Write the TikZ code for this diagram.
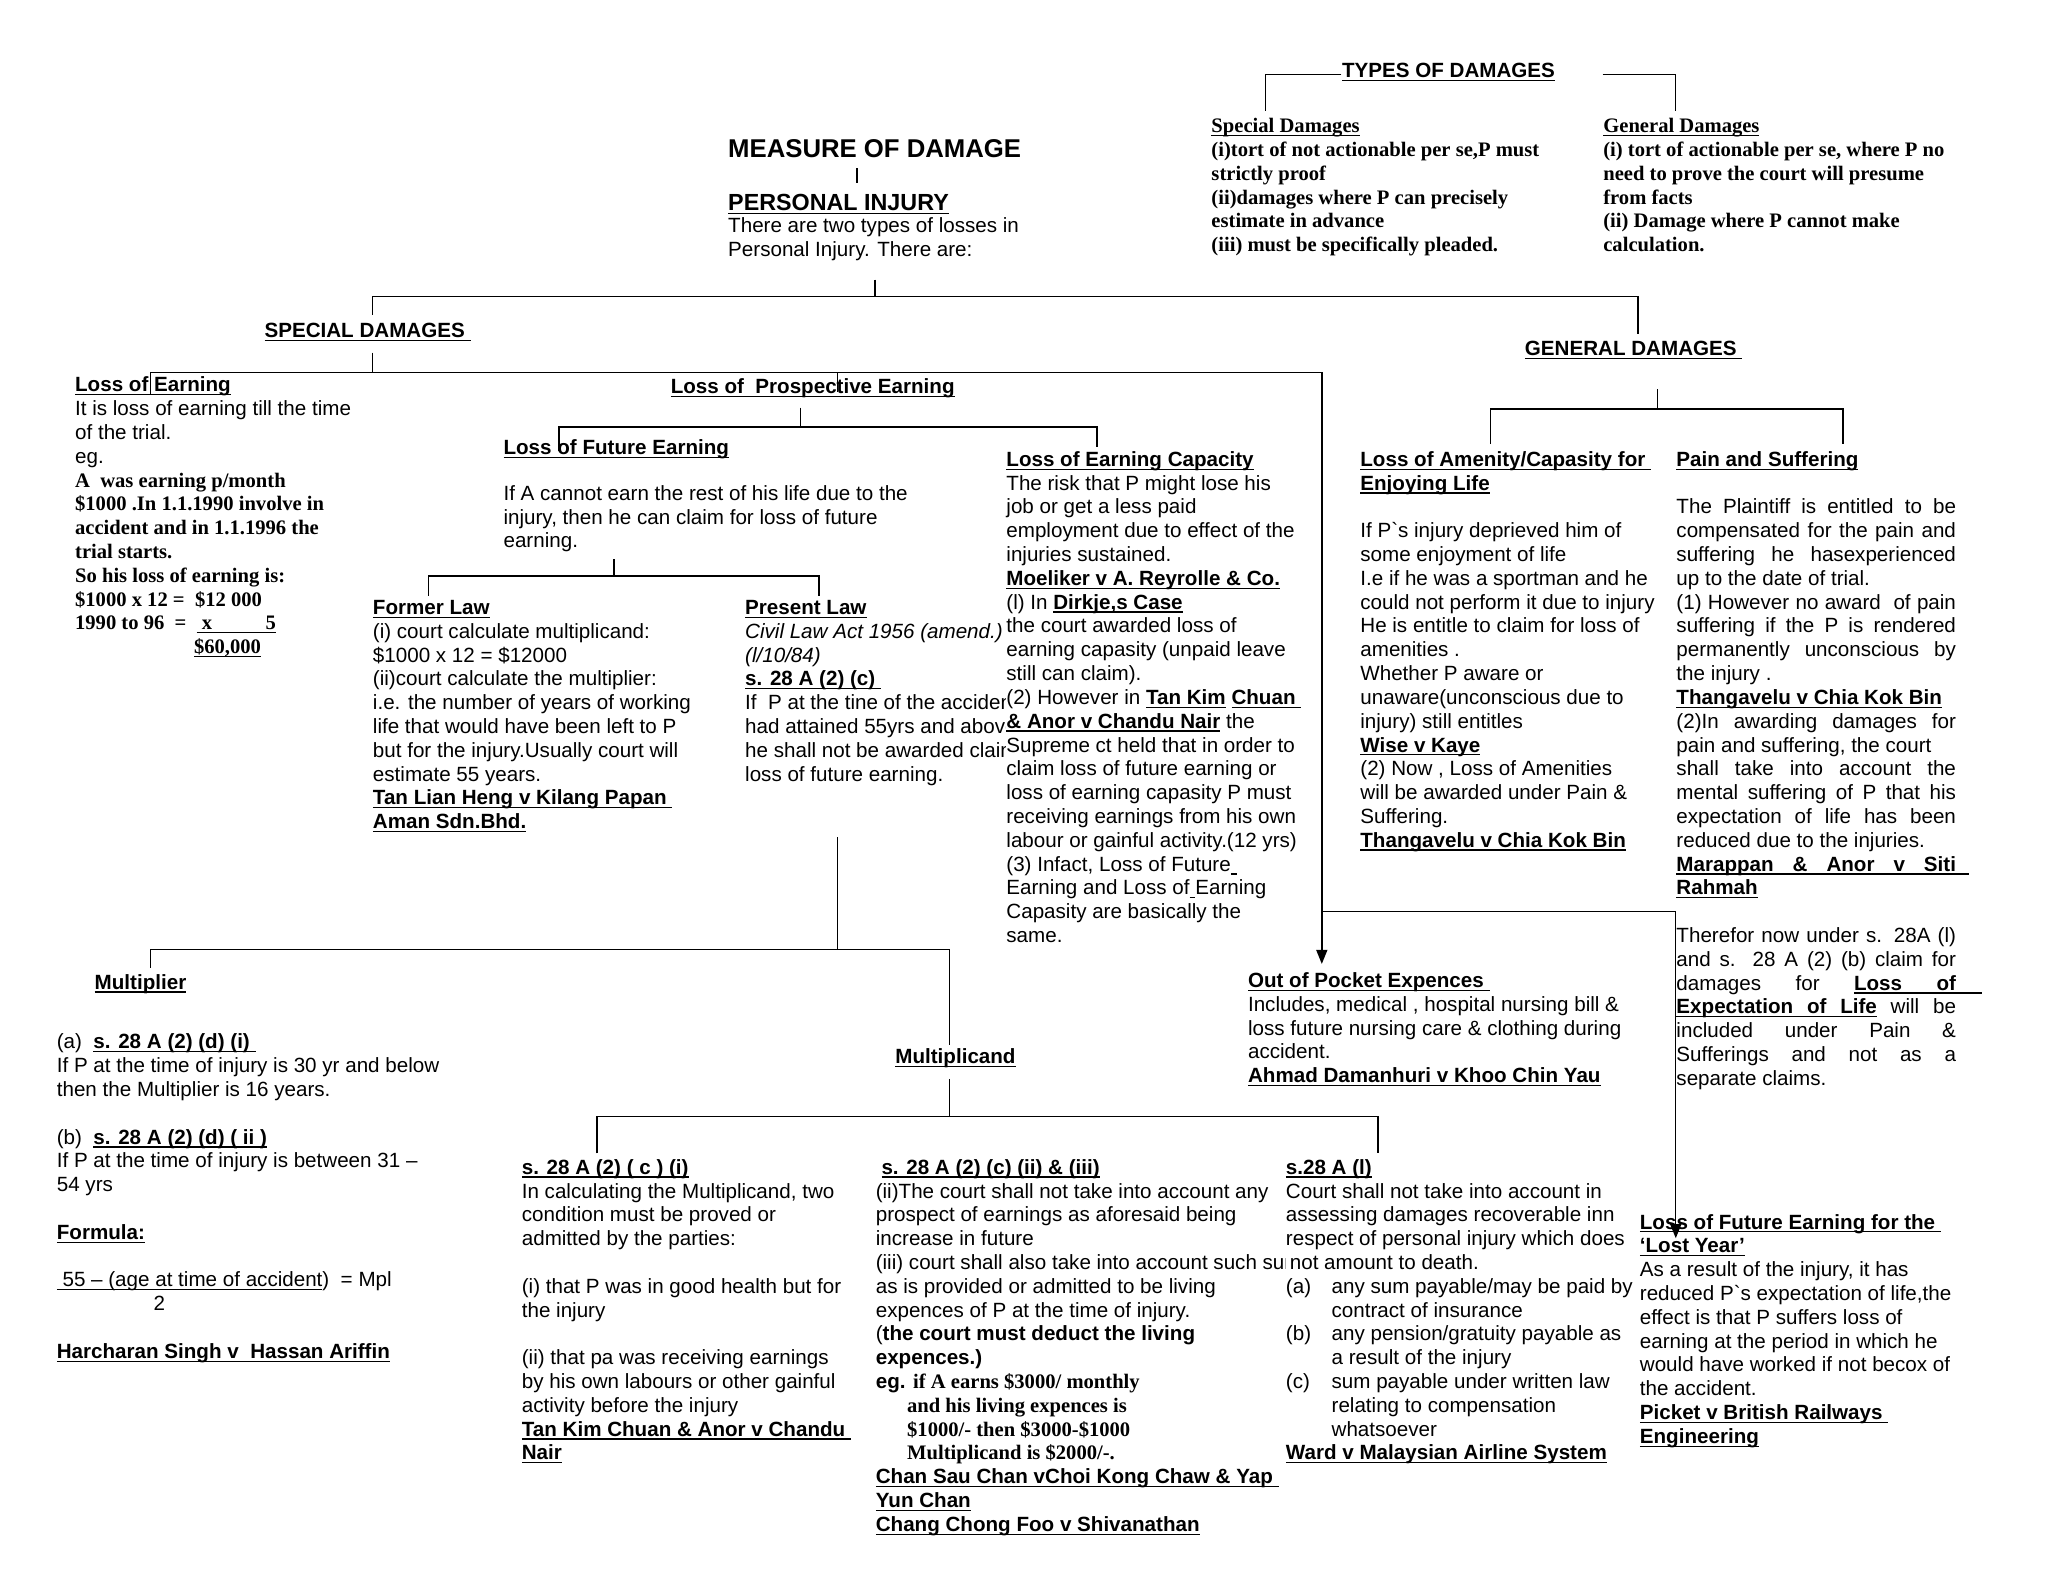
\documentclass[tikz,border=0pt]{standalone}
\usepackage{fontspec}
\setmainfont{Liberation Sans}
\newfontfamily\tnr{Liberation Serif}
\usetikzlibrary{arrows.meta}
\newlength\un \setlength\un{0.65pt}
\newlength\jw \setlength\jw{214\un}
\newcommand{\fs}{\fontsize{10.25}{11.85}\selectfont}
\newcommand{\ul}[1]{\setbox0\hbox{#1}\rlap{\rule[-1.7pt]{\wd0}{0.6pt}}\box0}
\newcommand{\hd}[1]{\textbf{\ul{#1}}}
\newcommand{\tb}[1]{{\tnr\bfseries #1}}
\newcommand{\jl}[1]{\makebox[\jw][s]{#1}}
\newcommand{\uls}{\leaders\hrule height -1.1pt depth 1.7pt\hskip\fontdimen2\font plus\fontdimen3\font minus\fontdimen4\font\relax}
\tikzset{
  txt/.style={anchor=north west, inner sep=0pt, yshift=-1pt, align=left, font=\fs, execute at begin node=\strut},
  serif/.style={txt, font=\fs\tnr\bfseries},
  blank/.style={txt, fill=white},
  arr/.style={-{Triangle[length=7pt,width=5.5pt]}}
}
\begin{document}
\begin{tikzpicture}[x=0.65pt,y=-0.65pt,line width=0.7pt]
\fill[white] (0,0) rectangle (1568,1211);

\node[txt] (types) at (1027,44.5) {\hd{TYPES OF DAMAGES}};
\node[serif] (spd) at (927,88.5) {\ul{Special Damages}\\
  (i)tort of not actionable per se,P must\\
  strictly proof\\
  (ii)damages where P can precisely\\
  estimate in advance\\
  (iii) must be specifically pleaded.};
\node[serif] (gnd) at (1227,88.5) {\ul{General Damages}\\
  (i) tort of actionable per se, where P no\\
  need to prove the court will presume\\
  from facts\\
  (ii) Damage where P cannot make\\
  calculation.};

\node[txt, font=\fontsize{12.8}{15}\selectfont\bfseries] (measure) at (557,102) {MEASURE OF DAMAGE};
\node[txt, font=\fontsize{11.6}{14}\selectfont] (pinj) at (557,144.3) {\hd{PERSONAL INJURY}};
\node[txt] (intro) at (557,164.5) {There are two types of losses in\\
  Personal Injury. There are:};

\node[txt] (sd) at (202,243.5) {\hd{SPECIAL DAMAGES\ }};
\node[txt] (gd) at (1167,257.5) {\hd{GENERAL DAMAGES\ }};

\node[txt] (le) at (57,286.5) {\hd{Loss of Earning}\\
  It is loss of earning till the time\\
  of the trial.\\
  eg.\\
  \tb{A\ \ was earning p/month}\\
  \tb{\$1000 .In 1.1.1990 involve in}\\
  \tb{accident and in 1.1.1996 the}\\
  \tb{trial starts.}\\
  \tb{So his loss of earning is:}\\
  \tb{\$1000 x 12 =\ \ \$12 000}\\
  \tb{1990 to 96\ \ =\ \ \ul{\ x\hspace{2.6em}5}}\\
  \hspace*{91\un}\tb{\ul{\$60,000}}};

\node[txt] (pe) at (513,286.5) {\hd{Loss of\ \ Prospective Earning}};
\node[txt] (lf) at (385,333.5) {\hd{Loss of Future Earning}};
\node[txt] (lfp) at (385,369.5) {If A cannot earn the rest of his life due to the\\
  injury, then he can claim for loss of future\\
  earning.};

\node[txt] (fl) at (285,457.5) {\hd{Former Law}\\
  (i) court calculate multiplicand:\\
  \$1000 x 12 = \$12000\\
  (ii)court calculate the multiplier:\\
  i.e. the number of years of working\\
  life that would have been left to P\\
  but for the injury.Usually court will\\
  estimate 55 years.\\
  \hd{Tan Lian Heng v Kilang Papan\ }\\
  \hd{Aman Sdn.Bhd.}};
\node[txt] (pl) at (570,457.5) {\hd{Present Law}\\
  \textit{Civil Law Act 1956 (amend.)}\\
  \textit{(l/10/84)}\\
  \hd{s. 28 A (2) (c)\ }\\
  If\ \ P at the tine of the accident\\
  had attained 55yrs and above\\
  he shall not be awarded claim\\
  loss of future earning.};

\node[blank] (lc) at (770,343.5) {\hd{Loss of Earning Capacity}\\
  The risk that P might lose his\\
  job or get a less paid\\
  employment due to effect of the\\
  injuries sustained.\\
  \hd{Moeliker v A. Reyrolle \& Co.}\\
  (l) In \hd{Dirkje,s Case}\\
  the court awarded loss of\\
  earning capasity (unpaid leave\\
  still can claim).\\
  (2) However in \hd{Tan Kim} \hd{Chuan\ }\\
  \hd{\& Anor v Chandu Nair} the\\
  Supreme ct held that in order to\\
  claim loss of future earning or\\
  loss of earning capasity P must\\
  receiving earnings from his own\\
  labour or gainful activity.(12 yrs)\\
  (3) Infact, Loss of Future\ul{\ }\\
  Earning and Loss of\ul{\ }Earning\\
  Capasity are basically the\\
  same.};

\node[txt] (am) at (1041,343.5) {\hd{Loss of Amenity/Capasity for\ }\\
  \hd{Enjoying Life}\\
  ~\\
  If P\textasciigrave s injury deprieved him of\\
  some enjoyment of life\\
  I.e if he was a sportman and he\\
  could not perform it due to injury\\
  He is entitle to claim for loss of\\
  amenities .\\
  Whether P aware or\\
  unaware(unconscious due to\\
  injury) still entitles\\
  \hd{Wise v Kaye}\\
  (2) Now , Loss of Amenities\\
  will be awarded under Pain \&\\
  Suffering.\\
  \hd{Thangavelu v Chia Kok Bin}};

\node[txt] (ps) at (1283,343.5) {\hd{Pain and Suffering}\\
  ~\\
  \jl{The Plaintiff is entitled to be}\\
  \jl{compensated for the pain and}\\
  \jl{suffering he hasexperienced}\\
  up to the date of trial.\\
  \jl{(1) However no award\ \ of pain}\\
  \jl{suffering if the P is rendered}\\
  \jl{permanently unconscious by}\\
  the injury .\\
  \hd{Thangavelu v Chia Kok Bin}\\
  \jl{(2)In awarding damages for}\\
  pain and suffering, the court\\
  \jl{shall take into account the}\\
  \jl{mental suffering of P that his}\\
  \jl{expectation of life has been}\\
  reduced due to the injuries.\\
  \jl{\textbf{\ul{Marappan}\uls\ul{\&}\uls\ul{Anor}\uls\ul{v}\uls\ul{Siti}}}\rlap{\rule[-1.7pt]{10\un}{0.6pt}}\\
  \hd{Rahmah}\\
  ~\\
  \jl{Therefor now under s. 28A (l)}\\
  \jl{and s. 28 A (2) (b) claim for}\\
  \jl{damages for \textbf{\ul{Loss}\uls\ul{of}}}\rlap{\rule[-1.7pt]{20\un}{0.6pt}}\\
  \jl{\textbf{\ul{Expectation}\uls\ul{of}\uls\ul{Life}} will be}\\
  \jl{included under Pain \&}\\
  \jl{Sufferings and not as a}\\
  separate claims.};

\node[txt] (op) at (955,742.5) {\hd{Out of Pocket Expences\ }\\
  Includes, medical , hospital nursing bill \&\\
  loss future nursing care \& clothing during\\
  accident.\\
  \hd{Ahmad Damanhuri v Khoo Chin Yau}};

\node[txt] (ly) at (1255,927.5) {\hd{Loss of Future Earning for the\ }\\
  \hd{‘Lost Year’}\\
  As a result of the injury, it has\\
  reduced P\textasciigrave s expectation of life,the\\
  effect is that P suffers loss of\\
  earning at the period in which he\\
  would have worked if not becox of\\
  the accident.\\
  \hd{Picket v British Railways\ }\\
  \hd{Engineering}};

\node[txt] (mu) at (72,742.5) {\hd{Multiplier}};
\node[txt] (mul) at (43,789.5) {(a)\ \ \hd{s. 28 A (2) (d) (i)\ }\\
  If P at the time of injury is 30 yr and below\\
  then the Multiplier is 16 years.\\
  ~\\
  (b)\ \ \hd{s. 28 A (2) (d) ( ii )}\\
  If P at the time of injury is between 31 –\\
  54 yrs\\
  ~\\
  \hd{Formula:}\\
  ~\\
  \ul{\ 55 – (age at time of accident} )\ \ = Mpl\\
  \hspace*{74\un}2\\
  ~\\
  \hd{Harcharan Singh v\ \ Hassan Ariffin}};

\node[txt] (mc) at (685,799.5) {\hd{Multiplicand}};

\node[txt] (s1) at (399,885.5) {\hd{s. 28 A (2) ( c ) (i)}\\
  In calculating the Multiplicand, two\\
  condition must be proved or\\
  admitted by the parties:\\
  ~\\
  (i) that P was in good health but for\\
  the injury\\
  ~\\
  (ii) that pa was receiving earnings\\
  by his own labours or other gainful\\
  activity before the injury\\
  \hd{Tan Kim Chuan \& Anor v Chandu\ }\\
  \hd{Nair}};
\node[txt] (s2) at (670,885.5) {\ \hd{s. 28 A (2) (c) (ii) \& (iii)}\\
  (ii)The court shall not take into account any\\
  prospect of earnings as aforesaid being\\
  increase in future\\
  (iii) court shall also take into account such sum\\
  as is provided or admitted to be living\\
  expences of P at the time of injury.\\
  (\textbf{the court must deduct the living}\\
  \textbf{expences.)}\\
  \textbf{eg.} \tb{if A earns \$3000/ monthly}\\
  \hspace*{24\un}\tb{and his living expences is}\\
  \hspace*{24\un}\tb{\$1000/- then \$3000-\$1000}\\
  \hspace*{24\un}\tb{Multiplicand is \$2000/-.}\\
  \hd{Chan Sau Chan vChoi Kong Chaw \& Yap\ }\\
  \hd{Yun Chan}\\
  \hd{Chang Chong Foo v Shivanathan}};
\node[blank] (s3) at (984,885.5) {\hd{s.28 A (l)}\\
  Court shall not take into account in\\
  assessing damages recoverable inn\\
  respect of personal injury which does\\
  \hspace*{3\un}not amount to death.\\
  \makebox[35\un][l]{(a)}any sum payable/may be paid by\\
  \hspace*{35\un}contract of insurance\\
  \makebox[35\un][l]{(b)}any pension/gratuity payable as\\
  \hspace*{35\un}a result of the injury\\
  \makebox[35\un][l]{(c)}sum payable under written law\\
  \hspace*{35\un}relating to compensation\\
  \hspace*{35\un}whatsoever\\
  \hd{Ward v Malaysian Airline System}};

\coordinate (tyL) at (1027,57);
\coordinate (tyR) at (1227,57);
\coordinate (spT) at (969,85);
\coordinate (gnT) at (1283,85);
\coordinate (mmA) at (656,129);
\coordinate (mmB) at (656,140);
\coordinate (mdA) at (670,214);
\coordinate (mdB) at (670,227);
\coordinate (sdT) at (285,241);
\coordinate (gdT) at (1254,256);
\coordinate (sdB) at (285,270);
\coordinate (sdJ) at (285,285);
\coordinate (leT) at (115,302);
\coordinate (peJ) at (641,285);
\coordinate (peT) at (641,300);
\coordinate (opJ) at (1012,698);
\coordinate (opA) at (1012,738);
\coordinate (lyA) at (1283,948);
\coordinate (peB) at (613,312);
\coordinate (lfJ) at (613,327);
\coordinate (lfT) at (428,345);
\coordinate (lcT) at (840,342);
\coordinate (lfB) at (470,428);
\coordinate (lawJ) at (470,441);
\coordinate (flT) at (328,456);
\coordinate (plT) at (627,456);
\coordinate (plB) at (641,641);
\coordinate (mJ) at (641,727);
\coordinate (muT) at (115,741);
\coordinate (mcT) at (727,800);
\coordinate (mcB) at (727,826);
\coordinate (mcJ) at (727,855);
\coordinate (s1T) at (457,883);
\coordinate (s3T) at (1055,883);
\coordinate (gdB) at (1269,298);
\coordinate (gdJ) at (1269,313);
\coordinate (amT) at (1141,340);
\coordinate (psT) at (1411,340);

\foreach \a/\b in {mmA/mmB, mdA/mdB, sdB/sdJ, peJ/peT, peB/lfJ, lfB/lawJ, plB/mJ, mcB/mcJ, gdB/gdJ}
  \draw (\a) -- (\b);
\draw (tyL) -| (spT);
\draw (tyR) -| (gnT);
\draw (sdT) |- (mdB) -| (gdT);
\draw[arr] (leT) |- (sdJ) -| (opA);
\draw[arr] (opJ) -| (lyA);
\draw (lfT) |- (lfJ) -| (lcT);
\draw (flT) |- (lawJ) -| (plT);
\draw (muT) |- (mJ) -| (mcT);
\draw (s1T) |- (mcJ) -| (s3T);
\draw (amT) |- (gdJ) -| (psT);
\end{tikzpicture}
\end{document}
